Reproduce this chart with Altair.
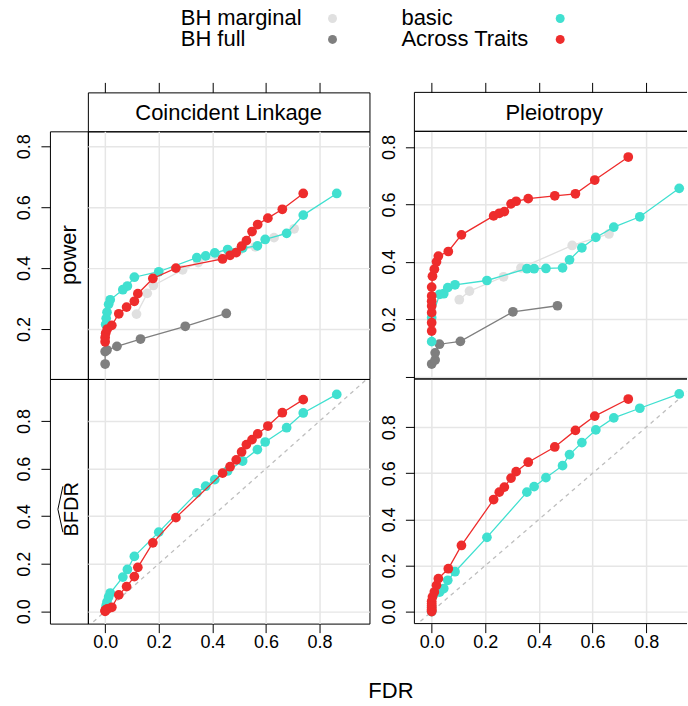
import altair as alt
import pandas as pd

FONT = "Liberation Sans"

methods = ["BH marginal", "BH full", "basic", "Across Traits"]
colors = ["#E0E0E0", "#7F7F7F", "#40E0D0", "#EE2C2C"]
tick_values = [0.0, 0.2, 0.4, 0.6, 0.8]
diag_vals = [-0.2, 1.2]

# ---------------- Coincident Linkage ----------------
cl_bhm_fdr = [0.117, 0.157, 0.180, 0.289, 0.347, 0.420, 0.500, 0.560, 0.630, 0.705]
cl_bhm_power = [0.249, 0.317, 0.343, 0.394, 0.418, 0.440, 0.458, 0.470, 0.500, 0.529]
cl_bhf_fdr = [0.000, 0.000, 0.007, 0.044, 0.132, 0.299, 0.452]
cl_bhf_power = [0.085, 0.126, 0.131, 0.143, 0.167, 0.209, 0.251]
cl_basic_fdr = [0.002, 0.004, 0.007, 0.013, 0.019, 0.066, 0.083, 0.109, 0.200, 0.342,
                0.375, 0.409, 0.457, 0.513, 0.568, 0.597, 0.677, 0.739, 0.864]
cl_basic_power = [0.215, 0.235, 0.255, 0.281, 0.296, 0.329, 0.341, 0.370, 0.388, 0.434,
                  0.440, 0.450, 0.461, 0.466, 0.473, 0.494, 0.514, 0.574, 0.645]
cl_basic_bfdr = [0.010, 0.025, 0.040, 0.060, 0.077, 0.144, 0.176, 0.231, 0.333, 0.498,
                 0.526, 0.554, 0.590, 0.632, 0.680, 0.712, 0.772, 0.834, 0.912]
cl_at_fdr = [0.000, 0.000, 0.002, 0.008, 0.025, 0.051, 0.080, 0.109, 0.122, 0.178, 0.264,
             0.438, 0.466, 0.489, 0.509, 0.527, 0.548, 0.569, 0.607, 0.661, 0.739]
cl_at_power = [0.158, 0.172, 0.186, 0.200, 0.212, 0.250, 0.272, 0.291, 0.316, 0.366, 0.400,
               0.430, 0.442, 0.451, 0.472, 0.490, 0.520, 0.543, 0.564, 0.593, 0.645]
cl_at_bfdr = [0.000, 0.003, 0.006, 0.010, 0.017, 0.069, 0.104, 0.146, 0.185, 0.288, 0.394,
              0.581, 0.608, 0.637, 0.670, 0.701, 0.722, 0.746, 0.779, 0.835, 0.890]

# ---------------- Pleiotropy ----------------
pl_bhm_fdr = [0.103, 0.141, 0.268, 0.333, 0.524, 0.661]
pl_bhm_power = [0.268, 0.298, 0.348, 0.379, 0.457, 0.497]
pl_bhf_fdr = [0.000, 0.013, 0.013, 0.029, 0.107, 0.303, 0.469]
pl_bhf_power = [0.044, 0.058, 0.083, 0.113, 0.123, 0.226, 0.247]
pl_basic_fdr = [0.000, 0.000, 0.030, 0.045, 0.060, 0.087, 0.206, 0.355, 0.382, 0.426,
                0.488, 0.514, 0.560, 0.612, 0.679, 0.776, 0.923]
pl_basic_power = [0.122, 0.205, 0.287, 0.289, 0.310, 0.320, 0.335, 0.376, 0.376, 0.377,
                  0.379, 0.407, 0.449, 0.485, 0.521, 0.557, 0.656]
pl_basic_bfdr = [0.000, 0.020, 0.085, 0.100, 0.136, 0.173, 0.322, 0.518, 0.542, 0.581,
                 0.633, 0.681, 0.733, 0.788, 0.840, 0.882, 0.944]
pl_at_fdr = [0.000, 0.000, 0.000, 0.000, 0.000, 0.000, 0.000, 0.003, 0.010, 0.018, 0.025,
             0.062, 0.111, 0.231, 0.252, 0.271, 0.296, 0.315, 0.360, 0.459, 0.536, 0.608, 0.733]
pl_at_power = [0.159, 0.188, 0.223, 0.246, 0.263, 0.281, 0.312, 0.350, 0.374, 0.400, 0.420,
               0.436, 0.494, 0.560, 0.569, 0.575, 0.602, 0.611, 0.620, 0.630, 0.637, 0.685, 0.765]
pl_at_bfdr = [0.000, 0.005, 0.010, 0.018, 0.027, 0.035, 0.045, 0.064, 0.085, 0.114, 0.143,
              0.186, 0.287, 0.486, 0.518, 0.540, 0.579, 0.607, 0.648, 0.714, 0.786, 0.848, 0.922]

legend_col = [0, 0, 1, 1]
legend_row = [0, 1, 0, 1]

# ---------------- layout constants ----------------
W_S, W_L, W_G, W_R = 38, 282, 45, 273          # column widths
H_LEG, H_STRIP, H_TOP, H_BOT, H_FOOT = 91, 39, 248, 245, 83   # row heights
X_CL = [-0.0644, 0.986]
X_PL = [-0.0644, 0.952]
Y_TL = [0.036, 0.849]
Y_TR = [-0.008, 0.8546]
Y_BL = [-0.0516, 0.977]
Y_BR = [-0.052, 1.009]

TRANSPARENT = alt.ViewBackground(stroke="transparent")
ONE = pd.DataFrame({"k": [0]})

GRID_ONLY = alt.Axis(values=tick_values, grid=True, labels=False, ticks=False,
                     domain=False, title=None)


def y_axis(offset, hide_zero=False):
    kw = dict(values=tick_values, grid=True, labels=True, ticks=True, tickSize=9,
              domain=False, title=None, offset=offset, labelAngle=270,
              labelAlign="center", labelBaseline="bottom", labelPadding=7,
              format=".1f")
    if hide_zero:
        kw["labelExpr"] = "datum.value == 0 ? '' : datum.label"
    return alt.Axis(**kw)


X_BOTTOM = alt.Axis(values=tick_values, grid=True, labels=True, ticks=True, tickSize=9,
                    domain=False, title=None, format=".1f", labelPadding=1)


def border_rules(w, h):
    left = alt.Chart(ONE).mark_rule(color="black", strokeWidth=1).encode(
        x=alt.value(0), y=alt.value(0), y2=alt.value(h))
    top = alt.Chart(ONE).mark_rule(color="black", strokeWidth=1).encode(
        x=alt.value(0), x2=alt.value(w), y=alt.value(0))
    bottom = alt.Chart(ONE).mark_rule(color="black", strokeWidth=1).encode(
        x=alt.value(0), x2=alt.value(w), y=alt.value(h))
    return [left, top, bottom]


def panel(series, xdom, ydom, w, h, xaxis, yaxis, diag=False, open_right=False):
    xs = alt.Scale(domain=xdom, nice=False, zero=False)
    ys = alt.Scale(domain=ydom, nice=False, zero=False)
    X = alt.X("fdr:Q", scale=xs, axis=xaxis)
    Y = alt.Y("val:Q", scale=ys, axis=yaxis)
    layers = []
    if diag:
        dd = pd.DataFrame({"fdr": diag_vals, "val": diag_vals})
        layers.append(alt.Chart(dd).mark_line(color="#BEBEBE", strokeDash=[4, 4],
                                              strokeWidth=1.3, clip=True).encode(x=X, y=Y))
    for fdr, vals, col in series:
        df = pd.DataFrame({"fdr": fdr, "val": vals, "i": list(range(len(fdr)))})
        base = alt.Chart(df).encode(x=X, y=Y, order=alt.Order("i:Q"))
        layers.append(base.mark_line(color=col, strokeWidth=1.3, clip=True))
        layers.append(base.mark_circle(color=col, size=95, opacity=1, clip=True))
    if open_right:
        layers.extend(border_rules(w, h))
        return alt.layer(*layers).properties(width=w, height=h, view=TRANSPARENT)
    return alt.layer(*layers).properties(width=w, height=h)


def col_strip(label, xdom, w, text_x, open_right=False):
    t = pd.DataFrame({"t": tick_values})
    ticks = alt.Chart(t).mark_rule(opacity=0).encode(
        x=alt.X("t:Q", scale=alt.Scale(domain=xdom, nice=False, zero=False),
                axis=alt.Axis(orient="top", values=tick_values, labels=False, grid=False,
                              domain=False, ticks=True, tickSize=10, title=None)))
    txt = alt.Chart(pd.DataFrame({"panel": [label]})).mark_text(
        fontSize=22, font=FONT, color="black", baseline="alphabetic", align="center"
    ).encode(text="panel:N", x=alt.value(text_x), y=alt.value(28))
    layers = [ticks, txt]
    if open_right:
        layers.extend(border_rules(w, H_STRIP))
        return alt.layer(*layers).properties(width=w, height=H_STRIP, view=TRANSPARENT)
    return alt.layer(*layers).properties(width=w, height=H_STRIP)


def row_strip(label, h, hat=False):
    d = pd.DataFrame({"lab": [label]})
    c = h / 2 + (8 if hat else 0)
    txt = alt.Chart(d).mark_text(fontSize=(20 if hat else 22), font=FONT, color="black",
                                 angle=270, baseline="middle", align="center").encode(
        text="lab:N", x=alt.value(W_S / 2 + (3 if hat else 0)), y=alt.value(c))
    layers = [txt]
    if hat:
        layers.append(alt.Chart(ONE).mark_rule(color="black", strokeWidth=1).encode(
            x=alt.value(13), y=alt.value(c + 23), x2=alt.value(8), y2=alt.value(c)))
        layers.append(alt.Chart(ONE).mark_rule(color="black", strokeWidth=1).encode(
            x=alt.value(8), y=alt.value(c), x2=alt.value(13), y2=alt.value(c - 23)))
    return alt.layer(*layers).properties(width=W_S, height=h)


def spacer(w, h):
    return alt.Chart(ONE).mark_point(opacity=0, size=1).encode(
        x=alt.value(w / 2), y=alt.value(h / 2)).properties(width=w, height=h, view=TRANSPARENT)


# ---------------- legend (drawn from the first cell, overflowing right) ----------------
leg = pd.DataFrame({"method": methods, "col": legend_col, "row": legend_row})
leg_text = alt.Chart(leg).mark_text(align="left", baseline="middle", fontSize=22,
                                    font=FONT, color="black").encode(
    x=alt.X("col:Q", scale=alt.Scale(domain=[0, 1], range=[131, 352]), axis=None),
    y=alt.Y("row:Q", scale=alt.Scale(domain=[0, 1], range=[17, 38]), axis=None),
    text="method:N")
leg_pts = alt.Chart(leg).mark_circle(size=80, opacity=1).encode(
    x=alt.X("col:Q", scale=alt.Scale(domain=[0, 1], range=[283, 511]), axis=None),
    y=alt.Y("row:Q", scale=alt.Scale(domain=[0, 1], range=[17, 38]), axis=None),
    color=alt.Color("method:N", scale=alt.Scale(domain=methods, range=colors), legend=None))
legend = alt.layer(leg_text, leg_pts).resolve_scale(x="independent", y="independent").properties(
    width=W_S, height=H_LEG, view=TRANSPARENT)

# ---------------- panels ----------------
TL = panel([(cl_bhm_fdr, cl_bhm_power, colors[0]), (cl_bhf_fdr, cl_bhf_power, colors[1]),
            (cl_basic_fdr, cl_basic_power, colors[2]), (cl_at_fdr, cl_at_power, colors[3])],
           X_CL, Y_TL, W_L, H_TOP, GRID_ONLY, y_axis(W_S))
TR = panel([(pl_bhm_fdr, pl_bhm_power, colors[0]), (pl_bhf_fdr, pl_bhf_power, colors[1]),
            (pl_basic_fdr, pl_basic_power, colors[2]), (pl_at_fdr, pl_at_power, colors[3])],
           X_PL, Y_TR, W_R, H_TOP, GRID_ONLY, y_axis(0, hide_zero=True), open_right=True)
BL = panel([(cl_basic_fdr, cl_basic_bfdr, colors[2]), (cl_at_fdr, cl_at_bfdr, colors[3])],
           X_CL, Y_BL, W_L, H_BOT, X_BOTTOM, y_axis(W_S), diag=True)
BR = panel([(pl_basic_fdr, pl_basic_bfdr, colors[2]), (pl_at_fdr, pl_at_bfdr, colors[3])],
           X_PL, Y_BR, W_R, H_BOT, X_BOTTOM, y_axis(0), diag=True, open_right=True)

footer = alt.Chart(pd.DataFrame({"t": ["FDR"]})).mark_text(
    fontSize=22, font=FONT, color="black", align="center", baseline="alphabetic").encode(
    text="t:N", x=alt.value(21.5), y=alt.value(75)).properties(
    width=W_G, height=H_FOOT, view=TRANSPARENT)

cells = [
    legend, spacer(W_L, H_LEG), spacer(W_G, H_LEG), spacer(W_R, H_LEG),
    spacer(W_S, H_STRIP), col_strip("Coincident Linkage", X_CL, W_L, 141),
    spacer(W_G, H_STRIP), col_strip("Pleiotropy", X_PL, W_R, 140, open_right=True),
    row_strip("power", H_TOP), TL, spacer(W_G, H_TOP), TR,
    row_strip("BFDR", H_BOT, hat=True), BL, spacer(W_G, H_BOT), BR,
    spacer(W_S, H_FOOT), spacer(W_L, H_FOOT), footer, spacer(W_R, H_FOOT),
]

chart = alt.concat(*cells, columns=4, spacing=0, bounds="flush").properties(
    padding={"left": 15, "top": 0, "right": 0, "bottom": 0}
).configure_view(stroke="black", strokeWidth=1).configure_axis(
    gridColor="#E6E6E6", gridWidth=1.5, tickColor="black", tickWidth=1,
    labelColor="black", labelFont=FONT, labelFontSize=18)

chart.save("out.html", embed_options={"renderer": "svg", "actions": False})
